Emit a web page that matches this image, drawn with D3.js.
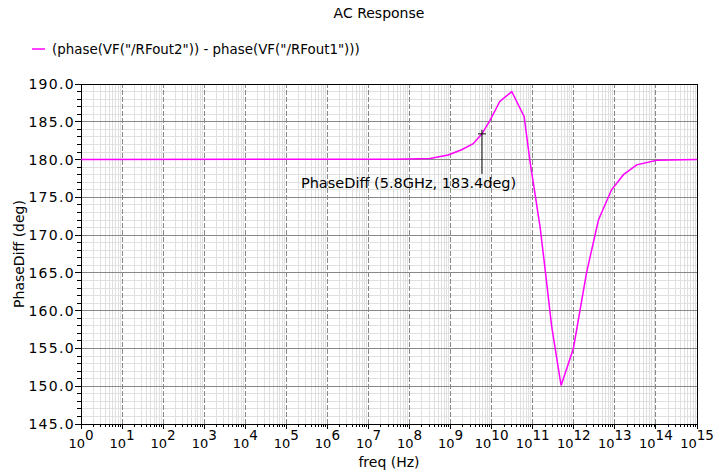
<!DOCTYPE html>
<html>
<head>
<meta charset="utf-8">
<script src="https://cdn.jsdelivr.net/npm/d3@7/dist/d3.min.js"></script>
<style>
  body { margin: 0; background: #fff; }
  svg { display: block; font-family: 'DejaVu Sans', sans-serif; }
  .minor line { stroke: #e0e0e0; stroke-width: 1; }
  .major-h line { stroke: #888; stroke-width: 1; }
  .major-v line { stroke: #888; stroke-width: 1; stroke-dasharray: 5,2; }
</style>
</head>
<body>
<svg id="chart" width="717" height="476"></svg>
<script>
// sweep points (Hz, deg)
const freqs = [1, 4.47e7, 3.16e8, 8.7e8, 1.86e9, 3.55e9, 5.8e9, 9.1e9, 1.58e10, 3.09e10,
  6.17e10, 8.51e10, 1.51e11, 2.0e11, 2.88e11, 4.9e11, 9.77e11, 2.04e12, 3.98e12,
  8.3e12, 1.62e13, 3.39e13, 1.05e14, 1e15];
const phaseDiff = [180, 180.05, 180.15, 180.6, 181.3, 182.1, 183.4, 185.2, 187.7, 189.0,
  185.7, 179.9, 171.1, 165.5, 158.0, 150.1, 155.0, 165.0, 172.0, 176.0,
  178.0, 179.3, 179.9, 180.0];

const xExponents = d3.range(0, 16);           // 10^0 .. 10^15
const yTicks = d3.range(145, 191, 5);         // 145.0 .. 190.0
const markerFreq = 5.8e9;
const markerVal = 183.4;

const title = 'AC Response';
const legendLabel = '(phase(VF("/RFout2")) - phase(VF("/RFout1")))';
const xLabel = 'freq (Hz)';
const yLabel = 'PhaseDiff (deg)';
const markerLabel = 'PhaseDiff (5.8GHz, 183.4deg)';

const margin = {left: 81, right: 20, top: 84, bottom: 52};
const svg = d3.select('#chart');
const W = +svg.attr('width'), H = +svg.attr('height');

const x = d3.scaleLog().domain([1, 1e15]).range([margin.left, W - margin.right]);
const y = d3.scaleLinear().domain([145, 190]).range([H - margin.bottom, margin.top]);

const x0 = x.range()[0], x1 = x.range()[1];
const y0 = y.range()[0], y1 = y.range()[1];

// minor grid: 2..9 in every decade, and every 1 deg
const minorX = [];
xExponents.slice(0, -1).forEach(e => {
  for (let k = 2; k < 10; k++) minorX.push(k * Math.pow(10, e));
});
const minorY = d3.range(145, 191, 1).filter(v => v % 5 !== 0);

const grid = svg.append('g');
grid.append('g').attr('class', 'minor')
  .selectAll('line').data(minorX).enter().append('line')
  .attr('x1', d => x(d)).attr('x2', d => x(d))
  .attr('y1', y0).attr('y2', y1)
  .attr('shape-rendering', 'crispEdges');
grid.append('g').attr('class', 'minor')
  .selectAll('line').data(minorY).enter().append('line')
  .attr('x1', x0).attr('x2', x1)
  .attr('y1', d => y(d)).attr('y2', d => y(d))
  .attr('shape-rendering', 'crispEdges');
grid.append('g').attr('class', 'major-h')
  .selectAll('line').data(yTicks.slice(1, -1)).enter().append('line')
  .attr('x1', x0).attr('x2', x1)
  .attr('y1', d => y(d)).attr('y2', d => y(d))
  .attr('shape-rendering', 'crispEdges');
grid.append('g').attr('class', 'major-v')
  .selectAll('line').data(xExponents.slice(1, -1)).enter().append('line')
  .attr('x1', d => x(Math.pow(10, d))).attr('x2', d => x(Math.pow(10, d)))
  .attr('y1', y0).attr('y2', y1)
  .attr('shape-rendering', 'crispEdges');

// frame
svg.append('rect')
  .attr('x', x0).attr('y', y1)
  .attr('width', x1 - x0).attr('height', y0 - y1)
  .attr('fill', 'none').attr('stroke', '#000')
  .attr('shape-rendering', 'crispEdges');

// x axis ticks
const xAxis = svg.append('g').attr('shape-rendering', 'crispEdges');
xAxis.selectAll('.minort').data(minorX).enter().append('line')
  .attr('x1', d => x(d)).attr('x2', d => x(d))
  .attr('y1', y0).attr('y2', y0 + 3).attr('stroke', '#000');
xAxis.selectAll('.majort').data(xExponents).enter().append('line')
  .attr('x1', d => x(Math.pow(10, d))).attr('x2', d => x(Math.pow(10, d)))
  .attr('y1', y0).attr('y2', y0 + 5).attr('stroke', '#000');

const xt = svg.append('g')
  .selectAll('text').data(xExponents).enter().append('text')
  .attr('x', d => x(Math.pow(10, d)))
  .attr('y', y0 + 24)
  .attr('text-anchor', 'middle')
  .attr('font-size', 13)
  .attr('fill', '#000');
xt.append('tspan').text('10');
xt.append('tspan').attr('dy', -8).attr('font-size', 13.5).text(d => d);

// y axis ticks
const yAxis = svg.append('g').attr('shape-rendering', 'crispEdges');
yAxis.selectAll('.minort').data(minorY).enter().append('line')
  .attr('x1', x0 - 4).attr('x2', x0)
  .attr('y1', d => y(d)).attr('y2', d => y(d)).attr('stroke', '#000');
yAxis.selectAll('.majort').data(yTicks).enter().append('line')
  .attr('x1', x0 - 6).attr('x2', x0)
  .attr('y1', d => y(d)).attr('y2', d => y(d)).attr('stroke', '#000');

svg.append('g')
  .selectAll('text').data(yTicks).enter().append('text')
  .attr('x', x0 - 6)
  .attr('y', d => y(d))
  .attr('dy', '0.36em')
  .attr('text-anchor', 'end')
  .attr('font-size', 14)
  .attr('letter-spacing', 1.3)
  .attr('fill', '#000')
  .text(d => d.toFixed(1));

// curve
const line = d3.line()
  .x((d, i) => x(freqs[i]))
  .y(d => y(d));
svg.append('path')
  .datum(phaseDiff)
  .attr('d', line)
  .attr('fill', 'none')
  .attr('stroke', '#ff00ff')
  .attr('stroke-width', 1.5);

// marker
const mx = x(markerFreq), my = y(markerVal);
const mk = svg.append('g').attr('stroke', '#000').attr('stroke-width', 1);
mk.append('line').attr('x1', mx - 4).attr('x2', mx + 4).attr('y1', my).attr('y2', my);
mk.append('line').attr('x1', mx).attr('x2', mx).attr('y1', my - 4).attr('y2', my + 40);
svg.append('text')
  .attr('x', mx - 181).attr('y', my + 54)
  .attr('font-size', 14.5)
  .attr('fill', '#000')
  .text(markerLabel);

// title, legend, axis labels
svg.append('text')
  .attr('x', 379).attr('y', 18)
  .attr('text-anchor', 'middle')
  .attr('font-size', 14)
  .text(title);

svg.append('line')
  .attr('x1', 32).attr('x2', 45).attr('y1', 49).attr('y2', 49)
  .attr('stroke', '#ff00ff').attr('stroke-width', 1.5);
svg.append('text')
  .attr('x', 52).attr('y', 54)
  .attr('font-size', 13.4)
  .text(legendLabel);

svg.append('text')
  .attr('x', (x0 + x1) / 2).attr('y', 467)
  .attr('text-anchor', 'middle')
  .attr('font-size', 14)
  .text(xLabel);

svg.append('text')
  .attr('transform', `translate(24,${(y0 + y1) / 2}) rotate(-90)`)
  .attr('text-anchor', 'middle')
  .attr('font-size', 14)
  .text(yLabel);
</script>
</body>
</html>
